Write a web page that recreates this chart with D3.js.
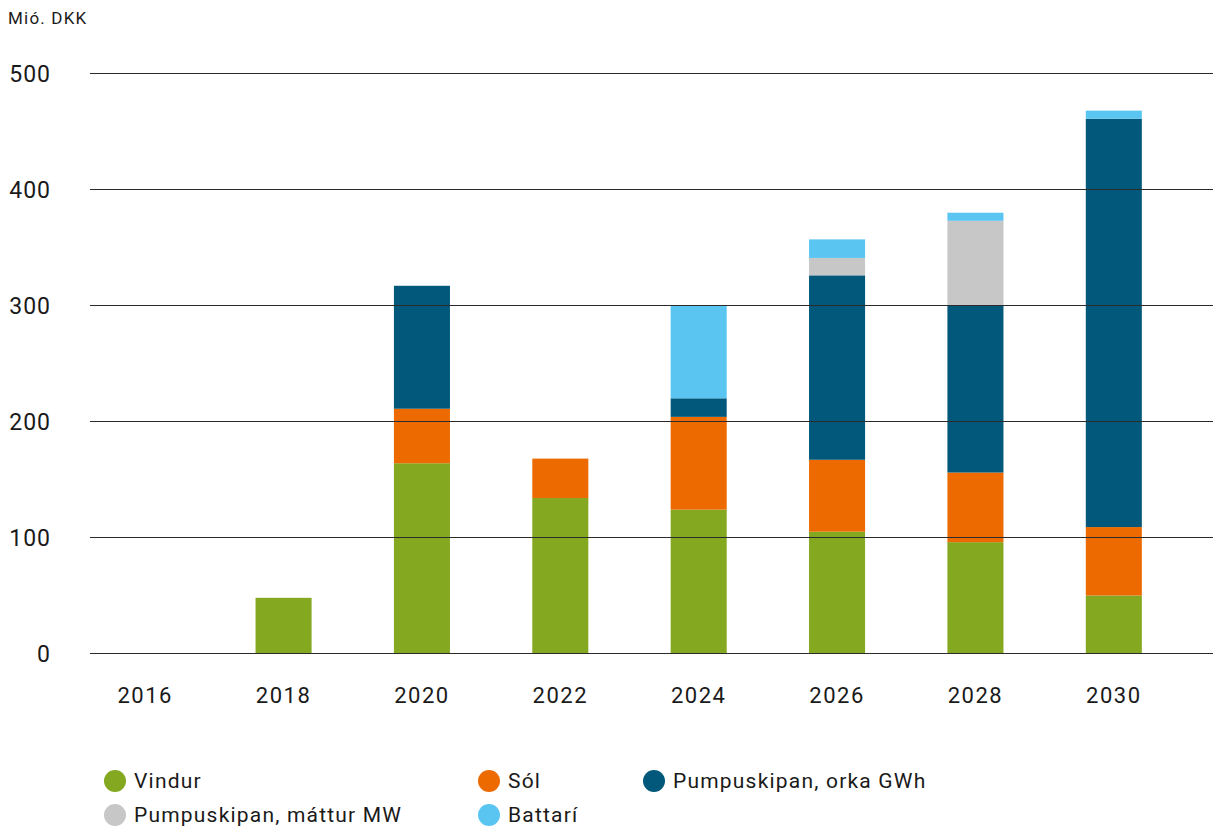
<!DOCTYPE html>
<html>
<head>
<meta charset="utf-8">
<script src="https://cdn.jsdelivr.net/npm/d3@7"></script>
<style>
  body { margin: 0; background: #fff; }
  text { font-family: Roboto, "DejaVu Sans", sans-serif; fill: #1a1a1a; }
</style>
</head>
<body>
<script>
// data
var years = ["2016", "2018", "2020", "2022", "2024", "2026", "2028", "2030"];
var vindur  = [0, 48, 164, 134, 124, 105, 96, 50];
var sol     = [0, 0, 47, 34, 80, 62, 60, 59];
var orka    = [0, 0, 106, 0, 16, 159, 144, 352];
var mattur  = [0, 0, 0, 0, 0, 15, 73, 0];
var battari = [0, 0, 0, 0, 80, 16, 7, 7];
var seriesNames = ["Vindur", "Sól", "Pumpuskipan, orka GWh", "Pumpuskipan, máttur MW", "Battarí"];
var seriesColors = ["#84a81f", "#ec6a00", "#02587a", "#c6c7c6", "#5bc5f2"];
var yTicks = [0, 100, 200, 300, 400, 500];

var width = 1213, height = 827;

var svg = d3.select("body")
    .append("svg")
    .attr("width", width)
    .attr("height", height);

var keys = ["vindur", "sol", "orka", "mattur", "battari"];
var table = years.map(function(y, i) {
    return {year: y, vindur: vindur[i], sol: sol[i], orka: orka[i], mattur: mattur[i], battari: battari[i]};
});

var x = d3.scaleBand()
    .domain(years)
    .range([76, 1183])
    .paddingInner(0.595)
    .paddingOuter(0.2975);

var y = d3.scaleLinear()
    .domain([0, 500])
    .range([653.5, 73.5]);

var color = d3.scaleOrdinal().domain(keys).range(seriesColors);

var stacked = d3.stack().keys(keys)(table);

svg.append("g")
    .selectAll("g")
    .data(stacked)
    .enter()
        .append("g")
        .attr("fill", function(d) { return color(d.key); })
        .selectAll("rect")
        .data(function(d) { return d; })
        .enter()
            .append("rect")
            .attr("x", function(d) { return x(d.data.year); })
            .attr("width", x.bandwidth())
            .attr("y", function(d) { return y(d[1]); })
            .attr("height", function(d) { return y(d[0]) - y(d[1]); });

// gridlines drawn over the bars
svg.append("g")
    .selectAll("line")
    .data(yTicks)
    .enter()
        .append("line")
        .attr("x1", 90)
        .attr("x2", width)
        .attr("y1", function(d) { return y(d); })
        .attr("y2", function(d) { return y(d); })
        .attr("stroke", "#2b2b2b")
        .attr("stroke-width", 1);

svg.append("g")
    .selectAll("text")
    .data(yTicks)
    .enter()
        .append("text")
        .attr("x", 51)
        .attr("y", function(d) { return y(d); })
        .attr("dy", "0.35em")
        .attr("text-anchor", "end")
        .style("font-size", "23px")
        .style("letter-spacing", "1px")
        .text(function(d) { return d; });

svg.append("text")
    .attr("x", 8)
    .attr("y", 24)
    .style("font-size", "17px")
    .style("letter-spacing", "1.2px")
    .text("Mió. DKK");

svg.append("g")
    .selectAll("text")
    .data(years)
    .enter()
        .append("text")
        .attr("x", function(d) { return x(d) + x.bandwidth() / 2; })
        .attr("y", 695)
        .attr("dy", "0.35em")
        .attr("text-anchor", "middle")
        .style("font-size", "22px")
        .style("letter-spacing", "1.5px")
        .text(function(d) { return d; });

// legend
var legendPos = [[115, 781], [489, 781], [654, 781], [115, 815], [489, 815]];
var legend = svg.append("g")
    .selectAll("g")
    .data(seriesNames)
    .enter()
        .append("g")
        .attr("transform", function(d, i) { return "translate(" + legendPos[i][0] + "," + legendPos[i][1] + ")"; });

legend.append("circle")
    .attr("r", 11)
    .attr("fill", function(d, i) { return seriesColors[i]; });

legend.append("text")
    .attr("x", 19)
    .attr("dy", "0.35em")
    .style("font-size", "21px")
    .style("letter-spacing", "1.2px")
    .text(function(d) { return d; });
</script>
</body>
</html>
